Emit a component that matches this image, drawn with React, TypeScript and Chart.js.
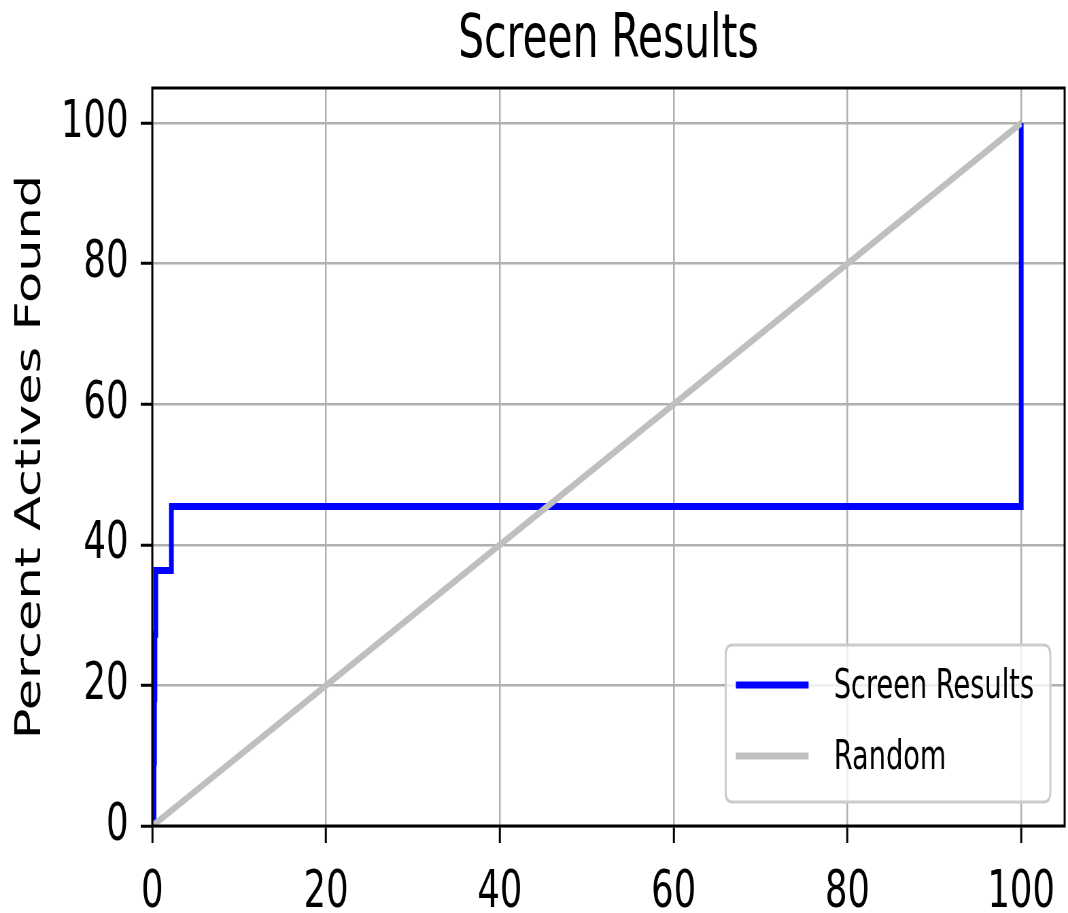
import React, { useEffect, useRef } from 'react';
import { Chart, registerables } from 'chart.js';

Chart.register(...registerables);

// ---- data ----
const TITLE = 'Screen Results';
const Y_LABEL = 'Percent Actives Found';
const X_TICKS = [0, 20, 40, 60, 80, 100];
const Y_TICKS = [0, 20, 40, 60, 80, 100];
const AXIS_MIN = 0;
const AXIS_MAX = 105;
const SERIES_NAMES = ['Screen Results', 'Random'];
const SERIES_COLORS = ['#0000ff', '#bfbfbf'];
const SCREEN_X = [0, 0.2, 0.25, 0.3, 0.4, 2.2, 100];
const SCREEN_Y = [0, 9.09, 18.18, 27.27, 36.36, 45.45, 100];
const RANDOM_X = [0, 100];
const RANDOM_Y = [0, 100];

// ---- rendering setup (the reference is horizontally squeezed) ----
const VIEW_W = 1068;
const VIEW_H = 913;
const SQUEEZE = 0.68;
const CANVAS_W = Math.round(VIEW_W / SQUEEZE);
const CANVAS_H = VIEW_H;
const FONT = '"DejaVu Sans", "Liberation Sans", sans-serif';

function roundRectPath(ctx: CanvasRenderingContext2D, x: number, y: number, w: number, h: number, r: number) {
  ctx.beginPath();
  ctx.moveTo(x + r, y);
  ctx.lineTo(x + w - r, y);
  ctx.quadraticCurveTo(x + w, y, x + w, y + r);
  ctx.lineTo(x + w, y + h - r);
  ctx.quadraticCurveTo(x + w, y + h, x + w - r, y + h);
  ctx.lineTo(x + r, y + h);
  ctx.quadraticCurveTo(x, y + h, x, y + h - r);
  ctx.lineTo(x, y + r);
  ctx.quadraticCurveTo(x, y, x + r, y);
  ctx.closePath();
}

const spinesPlugin = {
  id: 'spines',
  afterDatasetsDraw(chart: any) {
    const { ctx, chartArea } = chart;
    ctx.save();
    ctx.strokeStyle = '#000';
    ctx.lineWidth = 3;
    ctx.strokeRect(chartArea.left, chartArea.top, chartArea.right - chartArea.left, chartArea.bottom - chartArea.top);
    ctx.restore();
  },
};

const boxLegendPlugin = {
  id: 'boxLegend',
  afterDraw(chart: any) {
    const { ctx, chartArea } = chart;
    const fontSize = 40;
    ctx.save();
    ctx.font = `${fontSize}px ${FONT}`;
    const datasets = chart.data.datasets;
    const names: string[] = datasets.map((d: any) => d.label);
    const maxW = Math.max(...names.map((n) => ctx.measureText(n).width));
    const padL = 15;
    const sample = 107;
    const gap = 37;
    const padR = 24;
    const boxW = padL + sample + gap + maxW + padR;
    const boxH = 157;
    const right = chartArea.right - 21;
    const bottom = chartArea.bottom - 24;
    const left = right - boxW;
    const top = bottom - boxH;
    roundRectPath(ctx, left, top, boxW, boxH, 10);
    ctx.fillStyle = 'rgba(255,255,255,0.8)';
    ctx.fill();
    ctx.strokeStyle = '#cccccc';
    ctx.lineWidth = 3;
    ctx.stroke();
    const rows = [top + 40, top + 111];
    datasets.forEach((d: any, i: number) => {
      const y = rows[i];
      ctx.strokeStyle = d.borderColor;
      ctx.lineWidth = 7;
      ctx.beginPath();
      ctx.moveTo(left + padL, y);
      ctx.lineTo(left + padL + sample, y);
      ctx.stroke();
      ctx.fillStyle = '#000';
      ctx.textAlign = 'left';
      ctx.textBaseline = 'middle';
      ctx.fillText(d.label, left + padL + sample + gap, y + 3);
    });
    ctx.restore();
  },
};

export default function App() {
  const ref = useRef<HTMLCanvasElement>(null);

  useEffect(() => {
    const canvas = ref.current;
    if (!canvas) return;
    Chart.defaults.font.family = FONT;
    Chart.defaults.color = '#000';

    const tickSetter = (values: number[]) => (scale: any) => {
      scale.ticks = values.map((v) => ({ value: v }));
    };

    const chart = new Chart(canvas, {
      type: 'line',
      data: {
        datasets: [
          {
            label: SERIES_NAMES[0],
            data: SCREEN_X.map((x, i) => ({ x, y: SCREEN_Y[i] })),
            borderColor: SERIES_COLORS[0],
            backgroundColor: SERIES_COLORS[0],
            borderWidth: 7,
            stepped: 'before',
            pointRadius: 0,
            fill: false,
            order: 1,
          },
          {
            label: SERIES_NAMES[1],
            data: RANDOM_X.map((x, i) => ({ x, y: RANDOM_Y[i] })),
            borderColor: SERIES_COLORS[1],
            backgroundColor: SERIES_COLORS[1],
            borderWidth: 7,
            pointRadius: 0,
            fill: false,
            order: 0,
          },
        ],
      },
      options: {
        animation: false,
        responsive: false,
        devicePixelRatio: 1,
        events: [],
        layout: { padding: { left: 0, right: 3, top: 0, bottom: 0 } },
        plugins: {
          legend: { display: false },
          tooltip: { enabled: false },
          title: {
            display: true,
            text: TITLE,
            fullSize: false,
            color: '#000',
            font: { size: 60, weight: 'normal', family: FONT, lineHeight: 1.2 },
            padding: { top: 5, bottom: 11 },
          },
        },
        scales: {
          x: {
            type: 'linear',
            min: AXIS_MIN,
            max: AXIS_MAX,
            afterBuildTicks: tickSetter(X_TICKS),
            afterFit: (scale: any) => {
              scale.height = 87;
            },
            ticks: {
              includeBounds: false,
              maxRotation: 0,
              autoSkip: false,
              padding: 19,
              color: '#000',
              font: { size: 52, family: FONT },
              callback: (v: any) => String(v),
            },
            grid: {
              color: '#b0b0b0',
              lineWidth: 2.5,
              tickColor: '#000',
              tickWidth: 3,
              tickLength: 17,
              drawTicks: true,
            },
            border: { display: false },
          },
          y: {
            type: 'linear',
            min: AXIS_MIN,
            max: AXIS_MAX,
            afterBuildTicks: tickSetter(Y_TICKS),
            afterFit: (scale: any) => {
              scale.width = 224;
            },
            ticks: {
              includeBounds: false,
              autoSkip: false,
              padding: 18,
              color: '#000',
              font: { size: 52, family: FONT },
              callback: (v: any) => String(v),
            },
            grid: {
              color: '#b0b0b0',
              lineWidth: 2.5,
              tickColor: '#000',
              tickWidth: 3,
              tickLength: 17,
              drawTicks: true,
            },
            border: { display: false },
            title: {
              display: true,
              text: Y_LABEL,
              color: '#000',
              font: { size: 51, family: FONT, lineHeight: 1.2 },
              padding: { top: 15, bottom: 0 },
            },
          },
        },
      },
      plugins: [spinesPlugin, boxLegendPlugin],
    } as any);

    return () => chart.destroy();
  }, []);

  return (
    <div style={{ position: 'absolute', left: 0, top: 0, width: VIEW_W, height: VIEW_H, background: '#fff' }}>
      <canvas
        ref={ref}
        width={CANVAS_W}
        height={CANVAS_H}
        style={{ width: `${VIEW_W}px`, height: `${VIEW_H}px`, display: 'block' }}
      />
    </div>
  );
}
